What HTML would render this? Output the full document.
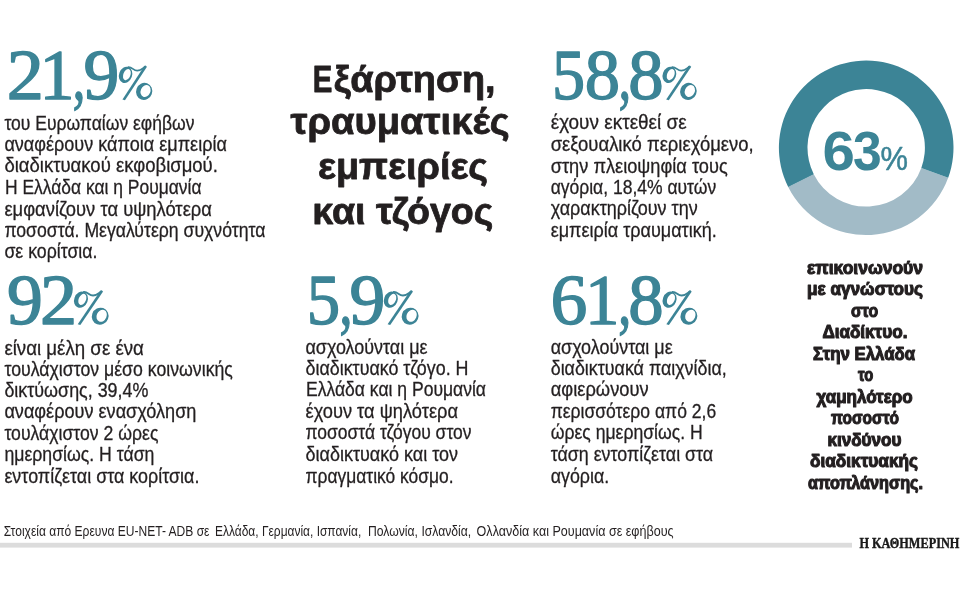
<!DOCTYPE html>
<html lang="el"><head><meta charset="utf-8"><title>Infographic</title>
<style>html,body{margin:0;padding:0;background:#fff;width:960px;height:600px;overflow:hidden}svg{display:block;will-change:transform;font-family:"Liberation Sans",sans-serif}text{white-space:pre}</style></head>
<body>
<svg width="960" height="600" viewBox="0 0 960 600">
<path fill="#a2bbc7" d="M948.18 177.80A87.3 87.3 0 0 1 788.21 187.03L813.76 174.18A58.7 58.7 0 0 0 921.32 167.97Z"/>
<path fill="#3c8496" d="M788.21 187.03A87.3 87.3 0 1 1 948.18 177.80L921.32 167.97A58.7 58.7 0 1 0 813.76 174.18Z"/>
<rect x="0" y="542.8" width="852" height="4.8" fill="#dcdcdc"/>
<g transform="translate(118.75 99.8) scale(1.004 1)" fill="#3c8496"><path fill-rule="evenodd" d="M0.69 -27.12A6.5 8.3 20 1 0 12.91 -22.68A6.5 8.3 20 1 0 0.69 -27.12ZM4.85 -26.51A3.5 5.8 22 1 0 11.35 -23.89A3.5 5.8 22 1 0 4.85 -26.51ZM17.78 -11.14A8.0 8.6 20 1 0 32.82 -5.66A8.0 8.6 20 1 0 17.78 -11.14ZM22.25 -10.60A4.8 6.2 22 1 0 31.15 -7.00A4.8 6.2 22 1 0 22.25 -10.60Z"/><path d="M25.6 -34.0L28.1 -33.0L6.2 0.4L3.7 -0.4Z"/><path fill="none" stroke="#3c8496" stroke-width="1.8" stroke-linecap="round" d="M9.6 -32.7C13.5 -32.9 14.5 -29.1 18.4 -29.1C22 -29.1 24 -31.6 26.6 -33.3"/></g>
<g transform="translate(73.9 324.6) scale(1.039 1)" fill="#3c8496"><path fill-rule="evenodd" d="M0.69 -27.12A6.5 8.3 20 1 0 12.91 -22.68A6.5 8.3 20 1 0 0.69 -27.12ZM4.85 -26.51A3.5 5.8 22 1 0 11.35 -23.89A3.5 5.8 22 1 0 4.85 -26.51ZM17.78 -11.14A8.0 8.6 20 1 0 32.82 -5.66A8.0 8.6 20 1 0 17.78 -11.14ZM22.25 -10.60A4.8 6.2 22 1 0 31.15 -7.00A4.8 6.2 22 1 0 22.25 -10.60Z"/><path d="M25.6 -34.0L28.1 -33.0L6.2 0.4L3.7 -0.4Z"/><path fill="none" stroke="#3c8496" stroke-width="1.8" stroke-linecap="round" d="M9.6 -32.7C13.5 -32.9 14.5 -29.1 18.4 -29.1C22 -29.1 24 -31.6 26.6 -33.3"/></g>
<g transform="translate(383.75 324.6) scale(1.042 1)" fill="#3c8496"><path fill-rule="evenodd" d="M0.69 -27.12A6.5 8.3 20 1 0 12.91 -22.68A6.5 8.3 20 1 0 0.69 -27.12ZM4.85 -26.51A3.5 5.8 22 1 0 11.35 -23.89A3.5 5.8 22 1 0 4.85 -26.51ZM17.78 -11.14A8.0 8.6 20 1 0 32.82 -5.66A8.0 8.6 20 1 0 17.78 -11.14ZM22.25 -10.60A4.8 6.2 22 1 0 31.15 -7.00A4.8 6.2 22 1 0 22.25 -10.60Z"/><path d="M25.6 -34.0L28.1 -33.0L6.2 0.4L3.7 -0.4Z"/><path fill="none" stroke="#3c8496" stroke-width="1.8" stroke-linecap="round" d="M9.6 -32.7C13.5 -32.9 14.5 -29.1 18.4 -29.1C22 -29.1 24 -31.6 26.6 -33.3"/></g>
<g transform="translate(662.4 99.8) scale(1.027 1)" fill="#3c8496"><path fill-rule="evenodd" d="M0.69 -27.12A6.5 8.3 20 1 0 12.91 -22.68A6.5 8.3 20 1 0 0.69 -27.12ZM4.85 -26.51A3.5 5.8 22 1 0 11.35 -23.89A3.5 5.8 22 1 0 4.85 -26.51ZM17.78 -11.14A8.0 8.6 20 1 0 32.82 -5.66A8.0 8.6 20 1 0 17.78 -11.14ZM22.25 -10.60A4.8 6.2 22 1 0 31.15 -7.00A4.8 6.2 22 1 0 22.25 -10.60Z"/><path d="M25.6 -34.0L28.1 -33.0L6.2 0.4L3.7 -0.4Z"/><path fill="none" stroke="#3c8496" stroke-width="1.8" stroke-linecap="round" d="M9.6 -32.7C13.5 -32.9 14.5 -29.1 18.4 -29.1C22 -29.1 24 -31.6 26.6 -33.3"/></g>
<g transform="translate(662.5 324.6) scale(1.042 1)" fill="#3c8496"><path fill-rule="evenodd" d="M0.69 -27.12A6.5 8.3 20 1 0 12.91 -22.68A6.5 8.3 20 1 0 0.69 -27.12ZM4.85 -26.51A3.5 5.8 22 1 0 11.35 -23.89A3.5 5.8 22 1 0 4.85 -26.51ZM17.78 -11.14A8.0 8.6 20 1 0 32.82 -5.66A8.0 8.6 20 1 0 17.78 -11.14ZM22.25 -10.60A4.8 6.2 22 1 0 31.15 -7.00A4.8 6.2 22 1 0 22.25 -10.60Z"/><path d="M25.6 -34.0L28.1 -33.0L6.2 0.4L3.7 -0.4Z"/><path fill="none" stroke="#3c8496" stroke-width="1.8" stroke-linecap="round" d="M9.6 -32.7C13.5 -32.9 14.5 -29.1 18.4 -29.1C22 -29.1 24 -31.6 26.6 -33.3"/></g>
<text x="4.40" y="129.80" textLength="190.00" lengthAdjust="spacingAndGlyphs" fill="#231f20" stroke="#231f20" stroke-width="0.3" stroke-linejoin="round" style="font-family:'Liberation Sans', sans-serif;font-size:20px;font-weight:normal;font-style:normal">του Ευρωπαίων εφήβων</text>
<text x="4.40" y="150.80" textLength="222.50" lengthAdjust="spacingAndGlyphs" fill="#231f20" stroke="#231f20" stroke-width="0.3" stroke-linejoin="round" style="font-family:'Liberation Sans', sans-serif;font-size:20px;font-weight:normal;font-style:normal">αναφέρουν κάποια εμπειρία</text>
<text x="4.40" y="172.10" textLength="213.50" lengthAdjust="spacingAndGlyphs" fill="#231f20" stroke="#231f20" stroke-width="0.3" stroke-linejoin="round" style="font-family:'Liberation Sans', sans-serif;font-size:20px;font-weight:normal;font-style:normal">διαδικτυακού εκφοβισμού.</text>
<text x="5.00" y="193.70" textLength="196.50" lengthAdjust="spacingAndGlyphs" fill="#231f20" stroke="#231f20" stroke-width="0.3" stroke-linejoin="round" style="font-family:'Liberation Sans', sans-serif;font-size:20px;font-weight:normal;font-style:normal">Η Ελλάδα και η Ρουμανία</text>
<text x="4.40" y="215.60" textLength="207.50" lengthAdjust="spacingAndGlyphs" fill="#231f20" stroke="#231f20" stroke-width="0.3" stroke-linejoin="round" style="font-family:'Liberation Sans', sans-serif;font-size:20px;font-weight:normal;font-style:normal">εμφανίζουν τα υψηλότερα</text>
<text x="4.40" y="237.20" textLength="261.00" lengthAdjust="spacingAndGlyphs" fill="#231f20" stroke="#231f20" stroke-width="0.3" stroke-linejoin="round" style="font-family:'Liberation Sans', sans-serif;font-size:20px;font-weight:normal;font-style:normal">ποσοστά. Μεγαλύτερη συχνότητα</text>
<text x="4.40" y="258.20" textLength="93.02" lengthAdjust="spacingAndGlyphs" fill="#231f20" stroke="#231f20" stroke-width="0.3" stroke-linejoin="round" style="font-family:'Liberation Sans', sans-serif;font-size:20px;font-weight:normal;font-style:normal">σε κορίτσια.</text>
<text x="4.40" y="354.80" textLength="139.50" lengthAdjust="spacingAndGlyphs" fill="#231f20" stroke="#231f20" stroke-width="0.3" stroke-linejoin="round" style="font-family:'Liberation Sans', sans-serif;font-size:20px;font-weight:normal;font-style:normal">είναι μέλη σε ένα</text>
<text x="4.40" y="376.10" textLength="228.50" lengthAdjust="spacingAndGlyphs" fill="#231f20" stroke="#231f20" stroke-width="0.3" stroke-linejoin="round" style="font-family:'Liberation Sans', sans-serif;font-size:20px;font-weight:normal;font-style:normal">τουλάχιστον μέσο κοινωνικής</text>
<text x="4.40" y="397.10" textLength="144.00" lengthAdjust="spacingAndGlyphs" fill="#231f20" stroke="#231f20" stroke-width="0.3" stroke-linejoin="round" style="font-family:'Liberation Sans', sans-serif;font-size:20px;font-weight:normal;font-style:normal">δικτύωσης, 39,4%</text>
<text x="4.40" y="418.40" textLength="192.00" lengthAdjust="spacingAndGlyphs" fill="#231f20" stroke="#231f20" stroke-width="0.3" stroke-linejoin="round" style="font-family:'Liberation Sans', sans-serif;font-size:20px;font-weight:normal;font-style:normal">αναφέρουν ενασχόληση</text>
<text x="4.40" y="440.30" textLength="154.00" lengthAdjust="spacingAndGlyphs" fill="#231f20" stroke="#231f20" stroke-width="0.3" stroke-linejoin="round" style="font-family:'Liberation Sans', sans-serif;font-size:20px;font-weight:normal;font-style:normal">τουλάχιστον 2 ώρες</text>
<text x="4.40" y="461.30" textLength="150.00" lengthAdjust="spacingAndGlyphs" fill="#231f20" stroke="#231f20" stroke-width="0.3" stroke-linejoin="round" style="font-family:'Liberation Sans', sans-serif;font-size:20px;font-weight:normal;font-style:normal">ημερησίως. Η τάση</text>
<text x="4.40" y="482.80" textLength="195.00" lengthAdjust="spacingAndGlyphs" fill="#231f20" stroke="#231f20" stroke-width="0.3" stroke-linejoin="round" style="font-family:'Liberation Sans', sans-serif;font-size:20px;font-weight:normal;font-style:normal">εντοπίζεται στα κορίτσια.</text>
<text x="305.50" y="353.50" textLength="122.00" lengthAdjust="spacingAndGlyphs" fill="#231f20" stroke="#231f20" stroke-width="0.3" stroke-linejoin="round" style="font-family:'Liberation Sans', sans-serif;font-size:20px;font-weight:normal;font-style:normal">ασχολούνται με</text>
<text x="305.50" y="374.80" textLength="163.00" lengthAdjust="spacingAndGlyphs" fill="#231f20" stroke="#231f20" stroke-width="0.3" stroke-linejoin="round" style="font-family:'Liberation Sans', sans-serif;font-size:20px;font-weight:normal;font-style:normal">διαδικτυακό τζόγο. Η</text>
<text x="306.00" y="396.10" textLength="180.00" lengthAdjust="spacingAndGlyphs" fill="#231f20" stroke="#231f20" stroke-width="0.3" stroke-linejoin="round" style="font-family:'Liberation Sans', sans-serif;font-size:20px;font-weight:normal;font-style:normal">Ελλάδα και η Ρουμανία</text>
<text x="305.50" y="418.00" textLength="152.50" lengthAdjust="spacingAndGlyphs" fill="#231f20" stroke="#231f20" stroke-width="0.3" stroke-linejoin="round" style="font-family:'Liberation Sans', sans-serif;font-size:20px;font-weight:normal;font-style:normal">έχουν τα ψηλότερα</text>
<text x="305.50" y="439.30" textLength="166.00" lengthAdjust="spacingAndGlyphs" fill="#231f20" stroke="#231f20" stroke-width="0.3" stroke-linejoin="round" style="font-family:'Liberation Sans', sans-serif;font-size:20px;font-weight:normal;font-style:normal">ποσοστά τζόγου στον</text>
<text x="305.50" y="461.20" textLength="152.50" lengthAdjust="spacingAndGlyphs" fill="#231f20" stroke="#231f20" stroke-width="0.3" stroke-linejoin="round" style="font-family:'Liberation Sans', sans-serif;font-size:20px;font-weight:normal;font-style:normal">διαδικτυακό και τον</text>
<text x="305.50" y="482.50" textLength="148.00" lengthAdjust="spacingAndGlyphs" fill="#231f20" stroke="#231f20" stroke-width="0.3" stroke-linejoin="round" style="font-family:'Liberation Sans', sans-serif;font-size:20px;font-weight:normal;font-style:normal">πραγματικό κόσμο.</text>
<text x="550.70" y="129.30" textLength="136.00" lengthAdjust="spacingAndGlyphs" fill="#231f20" stroke="#231f20" stroke-width="0.3" stroke-linejoin="round" style="font-family:'Liberation Sans', sans-serif;font-size:20px;font-weight:normal;font-style:normal">έχουν εκτεθεί σε</text>
<text x="550.70" y="150.70" textLength="203.00" lengthAdjust="spacingAndGlyphs" fill="#231f20" stroke="#231f20" stroke-width="0.3" stroke-linejoin="round" style="font-family:'Liberation Sans', sans-serif;font-size:20px;font-weight:normal;font-style:normal">σεξουαλικό περιεχόμενο,</text>
<text x="550.70" y="172.50" textLength="177.00" lengthAdjust="spacingAndGlyphs" fill="#231f20" stroke="#231f20" stroke-width="0.3" stroke-linejoin="round" style="font-family:'Liberation Sans', sans-serif;font-size:20px;font-weight:normal;font-style:normal">στην πλειοψηφία τους</text>
<text x="550.70" y="193.90" textLength="165.50" lengthAdjust="spacingAndGlyphs" fill="#231f20" stroke="#231f20" stroke-width="0.3" stroke-linejoin="round" style="font-family:'Liberation Sans', sans-serif;font-size:20px;font-weight:normal;font-style:normal">αγόρια, 18,4% αυτών</text>
<text x="550.70" y="215.20" textLength="147.00" lengthAdjust="spacingAndGlyphs" fill="#231f20" stroke="#231f20" stroke-width="0.3" stroke-linejoin="round" style="font-family:'Liberation Sans', sans-serif;font-size:20px;font-weight:normal;font-style:normal">χαρακτηρίζουν την</text>
<text x="550.70" y="236.50" textLength="166.00" lengthAdjust="spacingAndGlyphs" fill="#231f20" stroke="#231f20" stroke-width="0.3" stroke-linejoin="round" style="font-family:'Liberation Sans', sans-serif;font-size:20px;font-weight:normal;font-style:normal">εμπειρία τραυματική.</text>
<text x="550.70" y="353.50" textLength="122.00" lengthAdjust="spacingAndGlyphs" fill="#231f20" stroke="#231f20" stroke-width="0.3" stroke-linejoin="round" style="font-family:'Liberation Sans', sans-serif;font-size:20px;font-weight:normal;font-style:normal">ασχολούνται με</text>
<text x="550.70" y="374.80" textLength="176.00" lengthAdjust="spacingAndGlyphs" fill="#231f20" stroke="#231f20" stroke-width="0.3" stroke-linejoin="round" style="font-family:'Liberation Sans', sans-serif;font-size:20px;font-weight:normal;font-style:normal">διαδικτυακά παιχνίδια,</text>
<text x="550.70" y="396.10" textLength="98.01" lengthAdjust="spacingAndGlyphs" fill="#231f20" stroke="#231f20" stroke-width="0.3" stroke-linejoin="round" style="font-family:'Liberation Sans', sans-serif;font-size:20px;font-weight:normal;font-style:normal">αφιερώνουν</text>
<text x="550.70" y="418.00" textLength="165.50" lengthAdjust="spacingAndGlyphs" fill="#231f20" stroke="#231f20" stroke-width="0.3" stroke-linejoin="round" style="font-family:'Liberation Sans', sans-serif;font-size:20px;font-weight:normal;font-style:normal">περισσότερο από 2,6</text>
<text x="550.70" y="439.30" textLength="152.00" lengthAdjust="spacingAndGlyphs" fill="#231f20" stroke="#231f20" stroke-width="0.3" stroke-linejoin="round" style="font-family:'Liberation Sans', sans-serif;font-size:20px;font-weight:normal;font-style:normal">ώρες ημερησίως. Η</text>
<text x="550.70" y="461.20" textLength="162.50" lengthAdjust="spacingAndGlyphs" fill="#231f20" stroke="#231f20" stroke-width="0.3" stroke-linejoin="round" style="font-family:'Liberation Sans', sans-serif;font-size:20px;font-weight:normal;font-style:normal">τάση εντοπίζεται στα</text>
<text x="550.70" y="482.50" textLength="58.52" lengthAdjust="spacingAndGlyphs" fill="#231f20" stroke="#231f20" stroke-width="0.3" stroke-linejoin="round" style="font-family:'Liberation Sans', sans-serif;font-size:20px;font-weight:normal;font-style:normal">αγόρια.</text>
<text x="807.00" y="273.50" textLength="116.00" lengthAdjust="spacingAndGlyphs" fill="#231f20" stroke="#231f20" stroke-width="1.1" stroke-linejoin="round" style="font-family:'Liberation Sans', sans-serif;font-size:17.5px;font-weight:bold;font-style:normal">επικοινωνούν</text>
<text x="807.00" y="295.00" textLength="116.01" lengthAdjust="spacingAndGlyphs" fill="#231f20" stroke="#231f20" stroke-width="1.1" stroke-linejoin="round" style="font-family:'Liberation Sans', sans-serif;font-size:17.5px;font-weight:bold;font-style:normal">με αγνώστους</text>
<text x="851.00" y="316.50" textLength="27.13" lengthAdjust="spacingAndGlyphs" fill="#231f20" stroke="#231f20" stroke-width="1.1" stroke-linejoin="round" style="font-family:'Liberation Sans', sans-serif;font-size:17.5px;font-weight:bold;font-style:normal">στο</text>
<text x="822.40" y="338.00" textLength="85.03" lengthAdjust="spacingAndGlyphs" fill="#231f20" stroke="#231f20" stroke-width="1.1" stroke-linejoin="round" style="font-family:'Liberation Sans', sans-serif;font-size:17.5px;font-weight:bold;font-style:normal">Διαδίκτυο.</text>
<text x="813.00" y="359.50" textLength="102.01" lengthAdjust="spacingAndGlyphs" fill="#231f20" stroke="#231f20" stroke-width="1.1" stroke-linejoin="round" style="font-family:'Liberation Sans', sans-serif;font-size:17.5px;font-weight:bold;font-style:normal">Στην Ελλάδα</text>
<text x="858.00" y="381.00" textLength="15.21" lengthAdjust="spacingAndGlyphs" fill="#231f20" stroke="#231f20" stroke-width="1.1" stroke-linejoin="round" style="font-family:'Liberation Sans', sans-serif;font-size:17.5px;font-weight:bold;font-style:normal">το</text>
<text x="816.60" y="402.50" textLength="96.03" lengthAdjust="spacingAndGlyphs" fill="#231f20" stroke="#231f20" stroke-width="1.1" stroke-linejoin="round" style="font-family:'Liberation Sans', sans-serif;font-size:17.5px;font-weight:bold;font-style:normal">χαμηλότερο</text>
<text x="831.00" y="424.00" textLength="68.06" lengthAdjust="spacingAndGlyphs" fill="#231f20" stroke="#231f20" stroke-width="1.1" stroke-linejoin="round" style="font-family:'Liberation Sans', sans-serif;font-size:17.5px;font-weight:bold;font-style:normal">ποσοστό</text>
<text x="827.40" y="445.50" textLength="74.01" lengthAdjust="spacingAndGlyphs" fill="#231f20" stroke="#231f20" stroke-width="1.1" stroke-linejoin="round" style="font-family:'Liberation Sans', sans-serif;font-size:17.5px;font-weight:bold;font-style:normal">κινδύνου</text>
<text x="810.00" y="467.00" textLength="108.01" lengthAdjust="spacingAndGlyphs" fill="#231f20" stroke="#231f20" stroke-width="1.1" stroke-linejoin="round" style="font-family:'Liberation Sans', sans-serif;font-size:17.5px;font-weight:bold;font-style:normal">διαδικτυακής</text>
<text x="808.00" y="488.50" textLength="115.02" lengthAdjust="spacingAndGlyphs" fill="#231f20" stroke="#231f20" stroke-width="1.1" stroke-linejoin="round" style="font-family:'Liberation Sans', sans-serif;font-size:17.5px;font-weight:bold;font-style:normal">αποπλάνησης.</text>
<text x="312.70" y="91.60" textLength="19.61" lengthAdjust="spacingAndGlyphs" fill="#231f20" stroke="#231f20" stroke-width="0.8" stroke-linejoin="round" style="font-family:'Liberation Sans', sans-serif;font-size:36.3px;font-weight:bold;font-style:normal">Ε</text>
<text x="333.80" y="91.60" textLength="161.77" lengthAdjust="spacingAndGlyphs" fill="#231f20" stroke="#231f20" stroke-width="0.8" stroke-linejoin="round" style="font-family:'Liberation Sans', sans-serif;font-size:37.5px;font-weight:bold;font-style:normal">ξάρτηση,</text>
<text x="290.50" y="134.30" textLength="219.00" lengthAdjust="spacingAndGlyphs" fill="#231f20" stroke="#231f20" stroke-width="0.8" stroke-linejoin="round" style="font-family:'Liberation Sans', sans-serif;font-size:37.5px;font-weight:bold;font-style:normal">τραυματικές</text>
<text x="318.00" y="178.80" textLength="170.00" lengthAdjust="spacingAndGlyphs" fill="#231f20" stroke="#231f20" stroke-width="0.8" stroke-linejoin="round" style="font-family:'Liberation Sans', sans-serif;font-size:37.5px;font-weight:bold;font-style:normal">εμπειρίες</text>
<text x="312.30" y="223.80" textLength="181.01" lengthAdjust="spacingAndGlyphs" fill="#231f20" stroke="#231f20" stroke-width="0.8" stroke-linejoin="round" style="font-family:'Liberation Sans', sans-serif;font-size:37.5px;font-weight:bold;font-style:normal">και τζόγος</text>
<text x="6.75" y="98.90" textLength="37.08" lengthAdjust="spacingAndGlyphs" fill="#3c8496" stroke="#3c8496" stroke-width="1.4" stroke-linejoin="round" style="font-family:'Liberation Serif', serif;font-size:71.5px;font-weight:normal;font-style:normal">2</text>
<text x="39.40" y="98.90" textLength="35.06" lengthAdjust="spacingAndGlyphs" fill="#3c8496" stroke="#3c8496" stroke-width="1.4" stroke-linejoin="round" style="font-family:'Liberation Serif', serif;font-size:71.5px;font-weight:normal;font-style:normal">1</text>
<text x="72.75" y="98.90" textLength="12.60" lengthAdjust="spacingAndGlyphs" fill="#3c8496" stroke="#3c8496" stroke-width="1.4" stroke-linejoin="round" style="font-family:'Liberation Serif', serif;font-size:71.5px;font-weight:normal;font-style:normal">,</text>
<text x="83.40" y="98.90" textLength="35.77" lengthAdjust="spacingAndGlyphs" fill="#3c8496" stroke="#3c8496" stroke-width="1.4" stroke-linejoin="round" style="font-family:'Liberation Serif', serif;font-size:71.5px;font-weight:normal;font-style:normal">9</text>
<text x="7.10" y="323.90" textLength="35.77" lengthAdjust="spacingAndGlyphs" fill="#3c8496" stroke="#3c8496" stroke-width="1.4" stroke-linejoin="round" style="font-family:'Liberation Serif', serif;font-size:71.5px;font-weight:normal;font-style:normal">9</text>
<text x="39.90" y="323.90" textLength="37.08" lengthAdjust="spacingAndGlyphs" fill="#3c8496" stroke="#3c8496" stroke-width="1.4" stroke-linejoin="round" style="font-family:'Liberation Serif', serif;font-size:71.5px;font-weight:normal;font-style:normal">2</text>
<text x="306.75" y="323.90" textLength="33.37" lengthAdjust="spacingAndGlyphs" fill="#3c8496" stroke="#3c8496" stroke-width="1.4" stroke-linejoin="round" style="font-family:'Liberation Serif', serif;font-size:71.5px;font-weight:normal;font-style:normal">5</text>
<text x="339.60" y="323.90" textLength="12.94" lengthAdjust="spacingAndGlyphs" fill="#3c8496" stroke="#3c8496" stroke-width="1.4" stroke-linejoin="round" style="font-family:'Liberation Serif', serif;font-size:71.5px;font-weight:normal;font-style:normal">,</text>
<text x="349.60" y="323.90" textLength="35.77" lengthAdjust="spacingAndGlyphs" fill="#3c8496" stroke="#3c8496" stroke-width="1.4" stroke-linejoin="round" style="font-family:'Liberation Serif', serif;font-size:71.5px;font-weight:normal;font-style:normal">9</text>
<text x="552.00" y="98.90" textLength="33.08" lengthAdjust="spacingAndGlyphs" fill="#3c8496" stroke="#3c8496" stroke-width="1.4" stroke-linejoin="round" style="font-family:'Liberation Serif', serif;font-size:71.5px;font-weight:normal;font-style:normal">5</text>
<text x="584.70" y="98.90" textLength="35.33" lengthAdjust="spacingAndGlyphs" fill="#3c8496" stroke="#3c8496" stroke-width="1.4" stroke-linejoin="round" style="font-family:'Liberation Serif', serif;font-size:71.5px;font-weight:normal;font-style:normal">8</text>
<text x="618.70" y="98.90" textLength="12.28" lengthAdjust="spacingAndGlyphs" fill="#3c8496" stroke="#3c8496" stroke-width="1.4" stroke-linejoin="round" style="font-family:'Liberation Serif', serif;font-size:71.5px;font-weight:normal;font-style:normal">,</text>
<text x="628.30" y="98.90" textLength="35.37" lengthAdjust="spacingAndGlyphs" fill="#3c8496" stroke="#3c8496" stroke-width="1.4" stroke-linejoin="round" style="font-family:'Liberation Serif', serif;font-size:71.5px;font-weight:normal;font-style:normal">8</text>
<text x="550.50" y="323.90" textLength="36.86" lengthAdjust="spacingAndGlyphs" fill="#3c8496" stroke="#3c8496" stroke-width="1.4" stroke-linejoin="round" style="font-family:'Liberation Serif', serif;font-size:71.5px;font-weight:normal;font-style:normal">6</text>
<text x="585.00" y="323.90" textLength="34.47" lengthAdjust="spacingAndGlyphs" fill="#3c8496" stroke="#3c8496" stroke-width="1.4" stroke-linejoin="round" style="font-family:'Liberation Serif', serif;font-size:71.5px;font-weight:normal;font-style:normal">1</text>
<text x="618.20" y="323.90" textLength="12.99" lengthAdjust="spacingAndGlyphs" fill="#3c8496" stroke="#3c8496" stroke-width="1.4" stroke-linejoin="round" style="font-family:'Liberation Serif', serif;font-size:71.5px;font-weight:normal;font-style:normal">,</text>
<text x="628.30" y="323.90" textLength="35.37" lengthAdjust="spacingAndGlyphs" fill="#3c8496" stroke="#3c8496" stroke-width="1.4" stroke-linejoin="round" style="font-family:'Liberation Serif', serif;font-size:71.5px;font-weight:normal;font-style:normal">8</text>
<text x="822.40" y="169.60" textLength="32.37" lengthAdjust="spacingAndGlyphs" fill="#3c8496" style="font-family:'Liberation Sans', sans-serif;font-size:56px;font-weight:bold;font-style:normal">6</text>
<text x="853.00" y="169.60" textLength="28.71" lengthAdjust="spacingAndGlyphs" fill="#3c8496" style="font-family:'Liberation Sans', sans-serif;font-size:56px;font-weight:bold;font-style:normal">3</text>
<text x="880.60" y="169.50" textLength="27.50" lengthAdjust="spacingAndGlyphs" fill="#3c8496" stroke="#3c8496" stroke-width="0.5" stroke-linejoin="round" style="font-family:'Liberation Sans', sans-serif;font-size:33.5px;font-weight:normal;font-style:normal">%</text>
<text x="3.75" y="536.25" textLength="205.75" lengthAdjust="spacingAndGlyphs" fill="#231f20" style="font-family:'Liberation Sans', sans-serif;font-size:14.3px;font-weight:normal;font-style:normal">Στοιχεία από Ερευνα EU-NET- ADB σε</text>
<text x="215.00" y="536.25" textLength="146.25" lengthAdjust="spacingAndGlyphs" fill="#231f20" style="font-family:'Liberation Sans', sans-serif;font-size:14.3px;font-weight:normal;font-style:normal">Ελλάδα, Γερμανία, Ισπανία,</text>
<text x="368.00" y="536.25" textLength="103.25" lengthAdjust="spacingAndGlyphs" fill="#231f20" style="font-family:'Liberation Sans', sans-serif;font-size:14.3px;font-weight:normal;font-style:normal">Πολωνία, Ισλανδία,</text>
<text x="476.60" y="536.25" textLength="197.00" lengthAdjust="spacingAndGlyphs" fill="#231f20" style="font-family:'Liberation Sans', sans-serif;font-size:14.3px;font-weight:normal;font-style:normal">Ολλανδία και Ρουμανία σε εφήβους</text>
<text x="859.40" y="548.40" textLength="100.01" lengthAdjust="spacingAndGlyphs" fill="#1a1a1a" stroke="#1a1a1a" stroke-width="0.4" stroke-linejoin="round" style="font-family:'Liberation Serif', serif;font-size:14.6px;font-weight:bold;font-style:normal">Η ΚΑΘΗΜΕΡΙΝΗ</text>
</svg>
</body></html>
